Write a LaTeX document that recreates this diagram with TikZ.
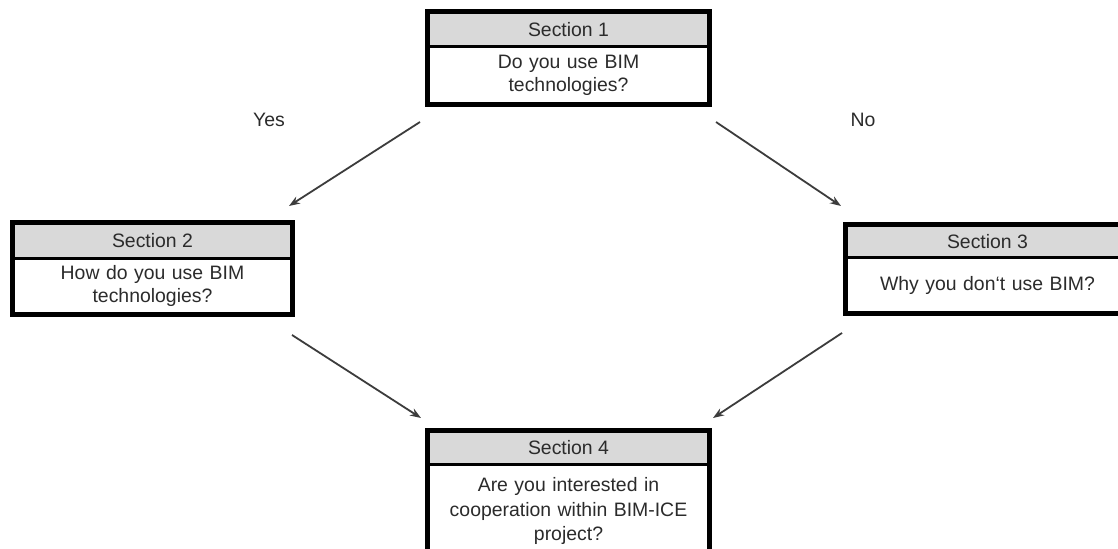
\documentclass[tikz,border=0pt]{standalone}
\usepackage{fontspec}
\setmainfont{Liberation Sans}
\usetikzlibrary{arrows.meta}
\definecolor{headgray}{HTML}{D9D9D9}
\definecolor{inkgray}{HTML}{2B2B2B}
\definecolor{arrowgray}{HTML}{3C3C3C}
\tikzset{
  sectext/.style={font=\fontsize{19.5}{23}\selectfont, text=inkgray, align=center},
  headbox/.style={sectext, draw=black, line width=3bp, fill=headgray, inner sep=0pt, anchor=north west},
  bodybox/.style={sectext, draw=black, line width=3bp, fill=white, inner sep=0pt, anchor=north west},
  flowarrow/.style={draw=arrowgray, line width=1.8bp, -{Stealth[length=11bp,width=8bp]}},
  answer/.style={sectext}
}
\begin{document}
\begin{tikzpicture}[x=1bp, y=-1bp]
  \useasboundingbox (0,0) rectangle (1118,549);
  \fill[white] (0,0) rectangle (1118,549);

  % Section 1
  \node[headbox, minimum width=280bp, minimum height=34bp] (s1h) at (427,11) {Section 1};
  \node[bodybox, minimum width=280bp, minimum height=57bp, text width=260bp] (s1b) at (427,45) {Do you use BIM\\technologies?};
  \draw[line width=4bp] (s1h.north west) rectangle (s1b.south east);

  % Section 2
  \node[headbox, minimum width=278bp, minimum height=35bp] (s2h) at (12,222) {Section 2};
  \node[bodybox, minimum width=278bp, minimum height=55bp, text width=260bp] (s2b) at (12,257) {How do you use BIM\\technologies?};
  \draw[line width=4bp] (s2h.north west) rectangle (s2b.south east);

  % Section 3
  \node[headbox, minimum width=282bp, minimum height=32bp] (s3h) at (845,224) {Section 3};
  \node[bodybox, minimum width=282bp, minimum height=55bp, text width=270bp] (s3b) at (845,256) {Why you don`t use BIM?};
  \draw[line width=4bp] (s3h.north west) rectangle (s3b.south east);

  % Section 4
  \node[headbox, minimum width=280bp, minimum height=33bp] (s4h) at (427,430) {Section 4};
  \node[bodybox, minimum width=280bp, minimum height=93bp, text width=270bp,
        font=\fontsize{19.5}{25}\selectfont] (s4b) at (427,463) {Are you interested in\\cooperation within BIM-ICE\\project?};
  \draw[line width=4bp] (s4h.north west) rectangle (s4b.south east);

  % Branch labels
  \node[answer] (yes) at (269,120) {Yes};
  \node[answer] (no) at (863,120) {No};

  % Arrow end points
  \coordinate (a1s) at (420,122);
  \coordinate (a1e) at (289,206);
  \coordinate (a2s) at (716,122);
  \coordinate (a2e) at (841,206);
  \coordinate (a3s) at (292,335);
  \coordinate (a3e) at (421,418);
  \coordinate (a4s) at (842,333);
  \coordinate (a4e) at (713,418);

  \draw[flowarrow] (a1s) -- (a1e);
  \draw[flowarrow] (a2s) -- (a2e);
  \draw[flowarrow] (a3s) -- (a3e);
  \draw[flowarrow] (a4s) -- (a4e);
\end{tikzpicture}
\end{document}
